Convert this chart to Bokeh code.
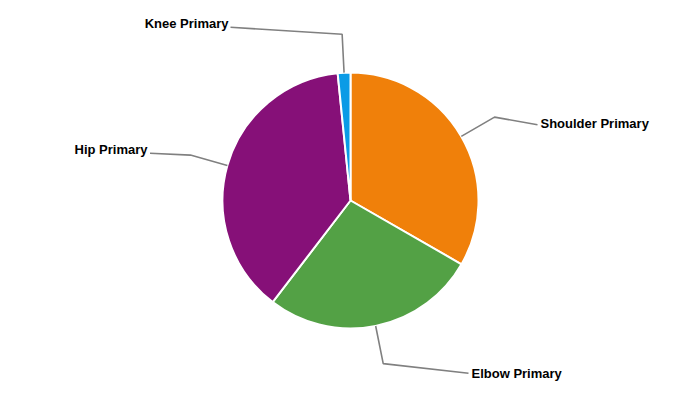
import math
from bokeh.plotting import figure
from bokeh.models import Range1d, ColumnDataSource
from bokeh.core.properties import value
from bokeh.embed import file_html
from bokeh.resources import INLINE

# Data
categories = ["Shoulder Primary", "Elbow Primary", "Hip Primary", "Knee Primary"]
shares = [33.3, 27.1, 38.0, 1.6]
colors = ["#F0800A", "#53A145", "#861078", "#0A9BE6"]

# Layout (pixel coords of window, y measured down)
CX, CY, R = 350, 200, 128
label_pos = [(540, 123), (471, 372.5), (147, 148.5), (228, 23)]
label_align = ["left", "left", "right", "right"]
line_end = [(537, 124.3), (468, 372.7), (149.5, 152.7), (230, 26.7)]

W, H = 684, 384
p = figure(width=W, height=H, output_backend="svg", toolbar_location=None,
           x_range=Range1d(0, W), y_range=Range1d(400 - H, 400),
           min_border=0)
p.axis.visible = False
p.grid.visible = False
p.outline_line_color = None

def fy(y):
    return 400 - y

total = sum(shares)
starts, ends, mids = [], [], []
acc = 0.0
for s in shares:
    a0 = math.pi / 2 - acc / total * 2 * math.pi
    acc += s
    a1 = math.pi / 2 - acc / total * 2 * math.pi
    starts.append(a0)
    ends.append(a1)
    mids.append((a0 + a1) / 2)

src = ColumnDataSource(dict(start=starts, end=ends, color=colors))
p.wedge(x=CX, y=fy(CY), radius=R, start_angle="start", end_angle="end",
        direction="clock", fill_color="color", line_color="white",
        line_width=2, source=src)

xs, ys = [], []
for m, (ex, ey) in zip(mids, line_end):
    x0 = CX + R * math.cos(m)
    y0 = fy(CY) + R * math.sin(m)
    x1 = CX + 1.3 * R * math.cos(m)
    y1 = fy(CY) + 1.3 * R * math.sin(m)
    xs.append([x0, x1, ex])
    ys.append([y0, y1, fy(ey)])
p.multi_line(xs=xs, ys=ys, line_color="#808080", line_width=1.6)

for cat, (lx, ly), al in zip(categories, label_pos, label_align):
    p.text(x=[lx], y=[fy(ly)], text=[cat], text_align=al,
           text_baseline="middle", text_font=value("Liberation Sans"),
           text_font_style="bold", text_font_size="13px", text_color="#000000")

open("out.html", "w").write(file_html(p, INLINE))
